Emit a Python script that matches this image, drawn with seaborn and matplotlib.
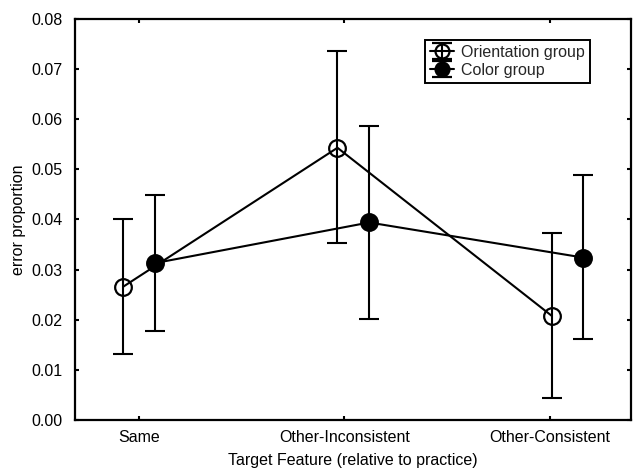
import matplotlib
matplotlib.use("Agg")
import matplotlib.pyplot as plt
import numpy as np
import pandas as pd
import seaborn as sns

# Conditions on the x axis
categories = ["Same", "Other-Inconsistent", "Other-Consistent"]
groups = ["Orientation group", "Color group"]

# Mean error proportion and confidence limits per group
orientation_mean = [0.0266, 0.0543, 0.0208]
orientation_lo = [0.0131, 0.0353, 0.0045]
orientation_hi = [0.0401, 0.0735, 0.0373]

color_mean = [0.0313, 0.0394, 0.0324]
color_lo = [0.0178, 0.0202, 0.0161]
color_hi = [0.0448, 0.0587, 0.0489]

yticks = [0.00, 0.01, 0.02, 0.03, 0.04, 0.05, 0.06, 0.07, 0.08]

sns.set_theme(style="ticks")
plt.rcParams["font.family"] = ["Liberation Sans", "DejaVu Sans"]
FS = 11.5

fig = plt.figure(figsize=(6.36, 4.72), dpi=100)
ax = fig.add_axes([0.118, 0.110, 0.874, 0.850])

offset = 0.074
base = np.arange(len(categories))
series = {
    "Orientation group": (orientation_mean, orientation_lo, orientation_hi, -offset, "none"),
    "Color group": (color_mean, color_lo, color_hi, offset, "black"),
}

handles = []
for name in groups:
    mean, lo, hi, shift, face = series[name]
    df = pd.DataFrame({"pos": base + shift, "error": mean, "group": name})
    sns.lineplot(data=df, x="pos", y="error", ax=ax, sort=False, legend=False,
                 color="black", linewidth=1.5, marker="o", markersize=12,
                 markerfacecolor=face, markeredgecolor="black",
                 markeredgewidth=1.6, zorder=3)
    mean_a = np.asarray(mean)
    yerr = [mean_a - np.asarray(lo), np.asarray(hi) - mean_a]
    ax.errorbar(base + shift, mean_a, yerr=yerr, fmt="none", ecolor="black",
                elinewidth=1.5, capsize=7.5, capthick=1.5, zorder=2)
    # legend key: marker, connecting line and error bar together
    key = ax.errorbar([np.nan], [np.nan], yerr=[[0.0], [0.0]], fmt="-o",
                      color="black", markersize=10, markerfacecolor=face,
                      markeredgecolor="black", markeredgewidth=1.6,
                      linewidth=1.5, ecolor="black", elinewidth=1.5,
                      capsize=7, capthick=1.5, label=name)
    handles.append(key)

ax.set_xlim(-0.299, 2.296)
ax.set_ylim(0, 0.08)
ax.set_xticks([0, 0.958, 1.916])
ax.set_xticklabels(categories, fontsize=FS)
ax.set_yticks(yticks)
ax.set_yticklabels([f"{v:.2f}" for v in yticks], fontsize=FS)
ax.tick_params(direction="in", length=3, width=1.5, top=True, right=True,
               colors="black", pad=7)
ax.tick_params(axis="y", pad=9)

for sp in ax.spines.values():
    sp.set_color("black")
    sp.set_linewidth(1.6)
    sp.set_visible(True)

ax.set_xlabel("Target Feature (relative to practice)", fontsize=FS, color="black", labelpad=6)
ax.set_ylabel("error proportion", fontsize=FS, color="black", labelpad=4)

leg = ax.legend(handles=handles, labels=groups,
                loc="upper right", bbox_to_anchor=(0.926, 0.948),
                borderaxespad=0, frameon=True, fancybox=False, framealpha=1,
                edgecolor="black", fontsize=FS, borderpad=0.3,
                labelspacing=0.2, handlelength=1.5, handletextpad=0.45)
leg.get_frame().set_linewidth(1.4)

fig.savefig("out.png", dpi=100)
